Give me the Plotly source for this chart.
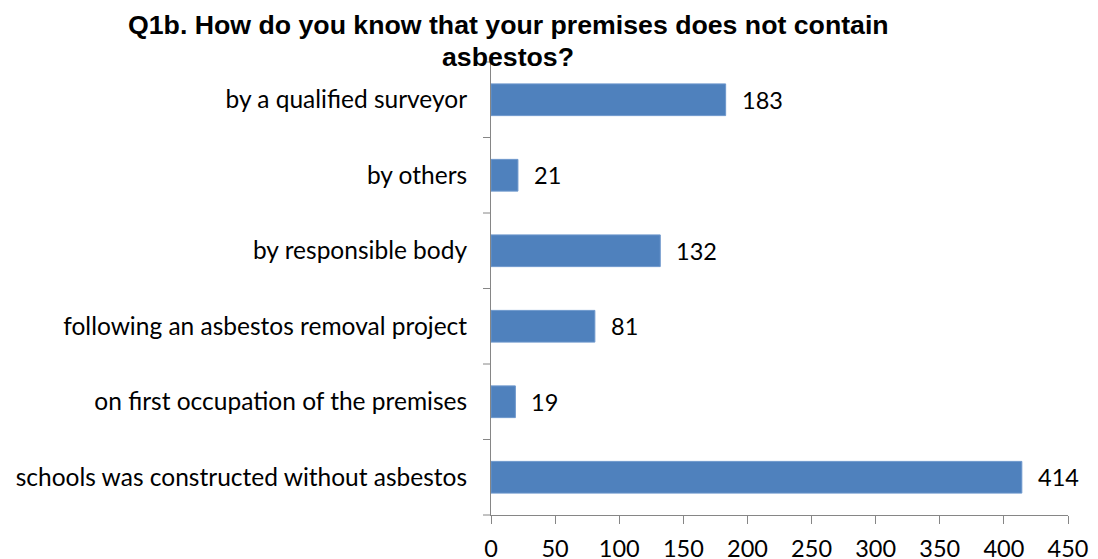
import plotly.graph_objects as go

categories = [
    "by a qualified surveyor",
    "by others",
    "by responsible body",
    "following an asbestos removal project",
    "on first occupation of the premises",
    "schools was constructed without asbestos",
]
values = [183, 21, 132, 81, 19, 414]
x_ticks = [0, 50, 100, 150, 200, 250, 300, 350, 400, 450]
title_lines = ["Q1b. How do you know that your premises does not contain", "asbestos?"]

label_font = dict(family="Lato, Carlito, sans-serif", size=24.5, color="#000000")
num_font = dict(family="Lato, Carlito, sans-serif", size=23.5, color="#000000")
title_font = dict(family="Liberation Sans, Arial, sans-serif", size=26.7,
                  color="#000000", weight="bold")

# page body has an 8px offset; figure is sized to compensate
fig = go.Figure()
fig.add_trace(go.Bar(
    y=categories,
    x=values,
    orientation="h",
    marker=dict(color="#4F81BD", line=dict(color="#6D97CC", width=1)),
    width=0.42,
    hoverinfo="x+y",
))

for c, v in zip(categories, values):
    fig.add_annotation(x=v, y=c, text=str(v), showarrow=False, xanchor="left",
                       xshift=14, font=num_font)

# title lines (plot area spans 62..515 px vertically, 491..1068 px horizontally)
for line, ypx in zip(title_lines, [25, 57]):
    fig.add_annotation(text="<b>" + line + "</b>", showarrow=False,
                       xref="paper", yref="paper",
                       x=(508 - 491) / 577, y=(515 - ypx) / 453,
                       xanchor="center", yanchor="middle", font=title_font)

fig.update_layout(
    width=1090, height=551,
    margin=dict(l=483, r=30, t=54, b=44, autoexpand=False),
    paper_bgcolor="white", plot_bgcolor="white",
    showlegend=False,
    xaxis=dict(range=[0, 450], tickvals=x_ticks, showgrid=False, zeroline=False,
               showline=True, linecolor="#868686", linewidth=1,
               ticks="outside", ticklen=8, tickcolor="#868686",
               tickfont=num_font, ticklabelstandoff=5, automargin=False),
    yaxis=dict(categoryorder="array", categoryarray=categories[::-1],
               showgrid=False, zeroline=False, showline=True, linecolor="#868686",
               linewidth=1, ticks="", tickfont=label_font, ticklabelstandoff=18,
               automargin=False),
)

# category boundary ticks on y axis
n = len(categories)
for i in range(n + 1):
    fig.add_shape(type="line", xref="x domain", yref="y domain",
                  x0=-8 / 577, x1=0, y0=i / n, y1=i / n,
                  line=dict(color="#868686", width=1))

fig.write_html("out.html")
